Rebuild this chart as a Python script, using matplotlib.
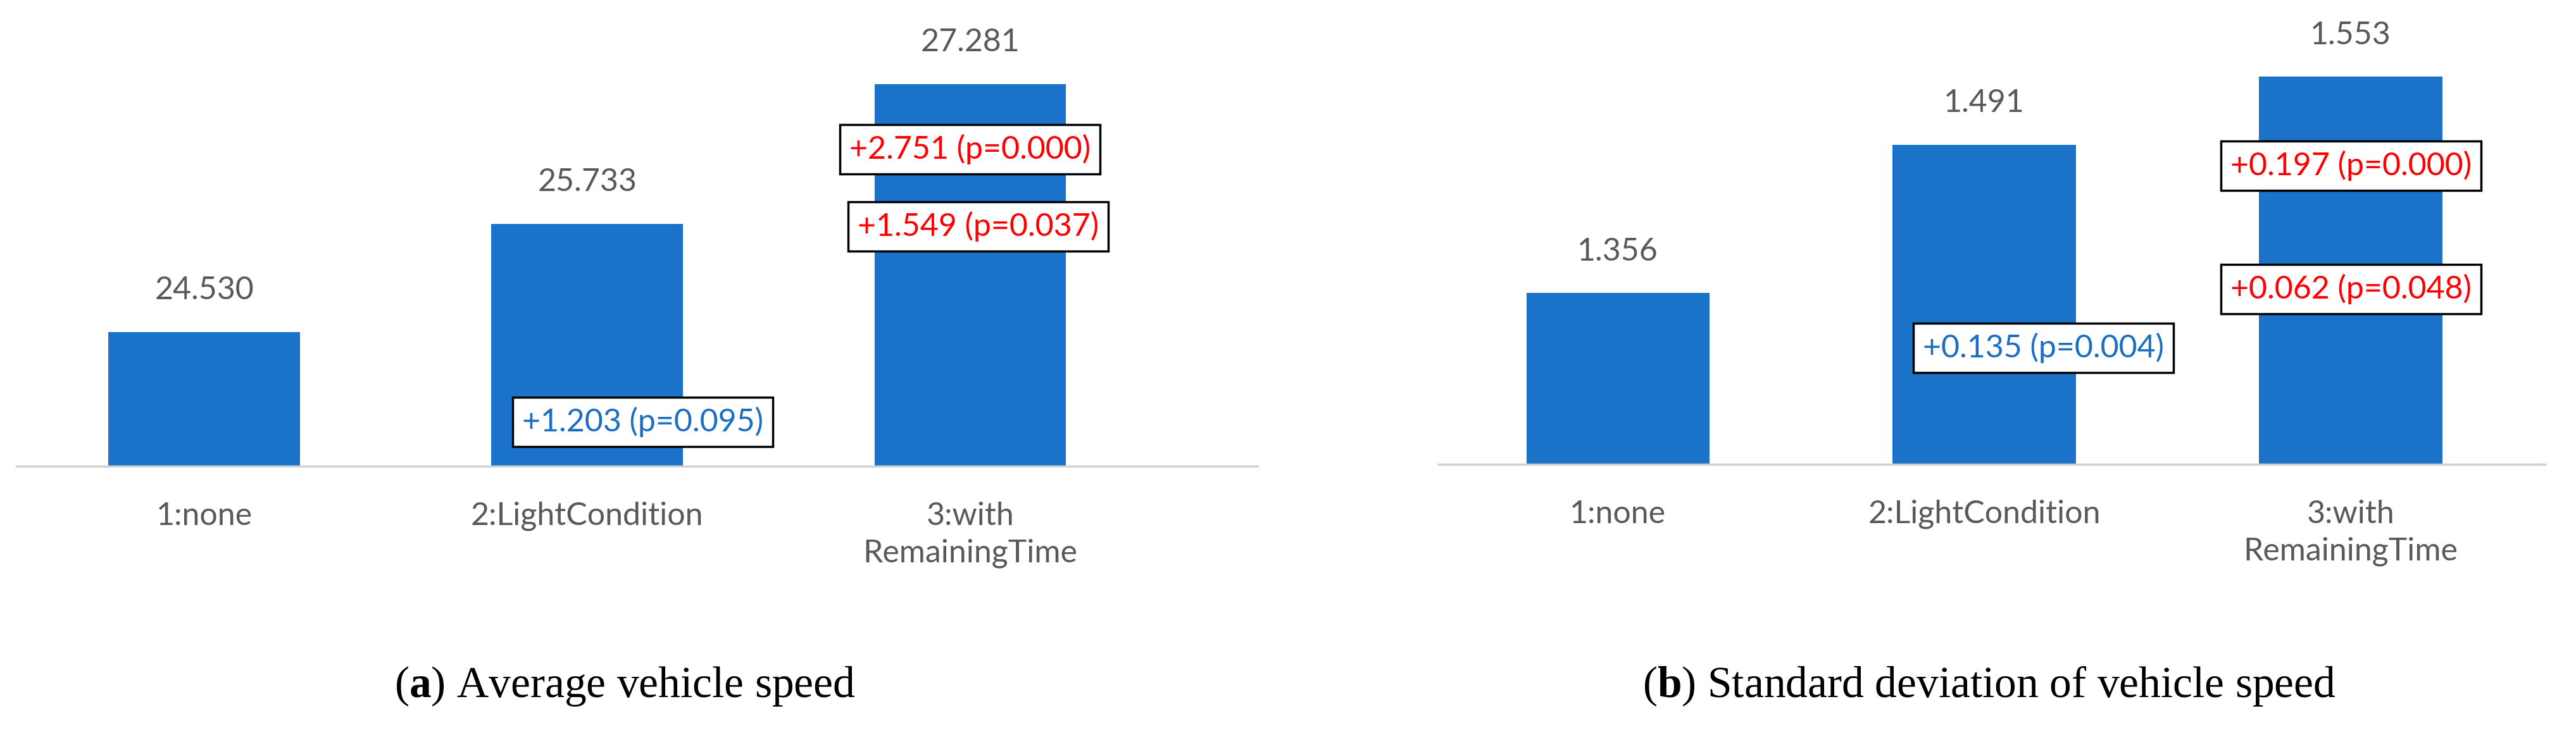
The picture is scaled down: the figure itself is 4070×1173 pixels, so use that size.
import matplotlib.pyplot as plt

plt.rcParams['font.family'] = ['Lato', 'DejaVu Sans']
plt.rcParams['mathtext.fontset'] = 'custom'
plt.rcParams['mathtext.rm'] = 'Liberation Serif'
plt.rcParams['mathtext.bf'] = 'Liberation Serif:bold'

categories = ['1:none', '2:LightCondition', '3:with\nRemainingTime']
speed_mean = [24.530, 25.733, 27.281]
speed_std = [1.356, 1.491, 1.553]

# annotations: (text, color, x, y in reference pixels of a 1567x452 view)
notes_a = [('+1.203 (p=0.095)', '#1a6fc4', 391, 257),
           ('+2.751 (p=0.000)', 'red', 590, 91),
           ('+1.549 (p=0.037)', 'red', 595, 138)]
notes_b = [('+0.135 (p=0.004)', '#1a6fc4', 1243, 212),
           ('+0.197 (p=0.000)', 'red', 1430, 101),
           ('+0.062 (p=0.048)', 'red', 1430, 176)]

W, H = 1567, 452
fig = plt.figure(figsize=(40.70, 11.73), dpi=100)
bar_color = '#1a73c9'
gray = '#595959'


def panel(rect, values, ylim, xlim, fmt):
    ax = fig.add_axes(rect)
    x = range(len(values))
    ax.bar(x, values, width=0.5, color=bar_color)
    for i, v in zip(x, values):
        ax.text(i, v + (ylim[1] - ylim[0]) * 0.065, fmt.format(v), ha='center',
                va='bottom', fontsize=36, color=gray)
    ax.set_ylim(*ylim)
    ax.set_xlim(*xlim)
    ax.set_xticks(list(x))
    ax.set_xticklabels(categories, fontsize=36, color=gray, linespacing=1.35)
    ax.tick_params(axis='x', length=0, pad=40)
    ax.set_yticks([])
    for s in ['top', 'left', 'right']:
        ax.spines[s].set_visible(False)
    ax.spines['bottom'].set_color('#d0d0d0')
    ax.spines['bottom'].set_linewidth(2.5)
    return ax


base = 1 - 284 / H
top = 1 - 30 / H
panel([10 / W, base, 755 / W, top - base], speed_mean, (23.04, 27.67), (-0.49, 2.75), '{:.3f}')
base_b = 1 - 283 / H
panel([875 / W, base_b, 673 / W, top - base_b], speed_std, (1.2, 1.578), (-0.49, 2.53), '{:.3f}')

for txt, col, px, py in notes_a + notes_b:
    fig.text(px / W, 1 - py / H, txt, color=col, fontsize=36, ha='center', va='center',
             bbox=dict(boxstyle='square,pad=0.3', facecolor='white', edgecolor='black', linewidth=2.5))

fig.text(380 / W, 1 - 418 / H, r'($\mathbf{a}$) Average vehicle speed', fontsize=50,
         family='Liberation Serif', ha='center', va='center')
fig.text(1210 / W, 1 - 418 / H, r'($\mathbf{b}$) Standard deviation of vehicle speed', fontsize=50,
         family='Liberation Serif', ha='center', va='center')

fig.savefig('out.png', dpi=100)
